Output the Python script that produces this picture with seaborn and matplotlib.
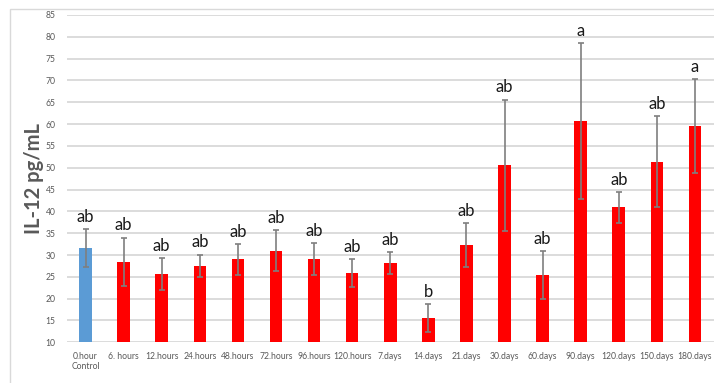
import matplotlib
matplotlib.use("Agg")
import matplotlib.pyplot as plt
from matplotlib.patches import Rectangle
import seaborn as sns
import pandas as pd

# Sampling time points
categories = ["0.hour\nControl", "6. hours", "12.hours", "24.hours", "48.hours",
              "72.hours", "96.hours", "120.hours", "7.days", "14.days", "21.days",
              "30.days", "60.days", "90.days", "120.days", "150.days", "180.days"]
# Mean IL-12 concentration (pg/mL) and standard error
means = [31.6, 28.4, 25.6, 27.5, 29.0, 31.0, 29.1, 25.9, 28.2, 15.5, 32.3,
         50.6, 25.4, 60.7, 40.9, 51.4, 59.5]
errors = [4.4, 5.6, 3.7, 2.6, 3.5, 4.7, 3.6, 3.2, 2.5, 3.2, 5.0,
          15.0, 5.5, 17.9, 3.6, 10.4, 10.8]
# Significance letters
letters = ["ab", "ab", "ab", "ab", "ab", "ab", "ab", "ab", "ab", "b", "ab",
           "ab", "ab", "a", "ab", "ab", "a"]
groups = ["Control"] + ["Treated"] * 16

df = pd.DataFrame({"time": categories, "il12": means, "group": groups})

sns.set_theme(style="white")
plt.rcParams["font.family"] = ["Lato", "DejaVu Sans"]

fig = plt.figure(figsize=(7.14, 3.83), dpi=100)
ax = fig.add_axes([66.5 / 714, 1 - 342.3 / 383, 1 - 66.5 / 714, (342.3 - 15) / 383])

# outer chart frame
fig.patches.append(Rectangle((10 / 714, -0.1), 1.2, 1.1 - 9 / 383,
                             transform=fig.transFigure, fill=False,
                             edgecolor="#d9d9d9", linewidth=1.0, zorder=0))

sns.barplot(data=df, x="time", y="il12", hue="group",
            palette={"Control": "#5b9bd5", "Treated": "#ff0000"},
            saturation=1, width=0.33, dodge=False, errorbar=None, legend=False,
            edgecolor="none", ax=ax, zorder=3)

xs = list(range(len(categories)))
ax.errorbar(xs, means, yerr=errors, fmt="none", ecolor="#7f7f7f",
            elinewidth=1.2, capsize=2.2, capthick=1.2, zorder=4)

for x, m, e, t in zip(xs, means, errors, letters):
    ax.annotate(t, (x, m + e), xytext=(0, 3), textcoords="offset points",
                ha="center", va="bottom", fontsize=12, color="#1a1a1a")

ax.set_ylim(10, 85)
ax.set_xlim(-0.5, len(categories) - 0.5)
ax.set_yticks(range(10, 86, 5))
ax.yaxis.grid(True, color="#d9d9d9", linewidth=1.3)
ax.set_axisbelow(True)
for s in ["left", "right", "top", "bottom"]:
    ax.spines[s].set_visible(False)
ax.tick_params(axis="both", length=0, labelsize=6.2, labelcolor="#595959")
ax.tick_params(axis="y", pad=8)
ax.tick_params(axis="x", pad=7)
ax.set_xlabel("")
ax.set_ylabel("IL-12 pg/mL", fontsize=14.5, fontweight="bold", color="#595959",
              labelpad=1)

fig.savefig("out.png", dpi=100)
